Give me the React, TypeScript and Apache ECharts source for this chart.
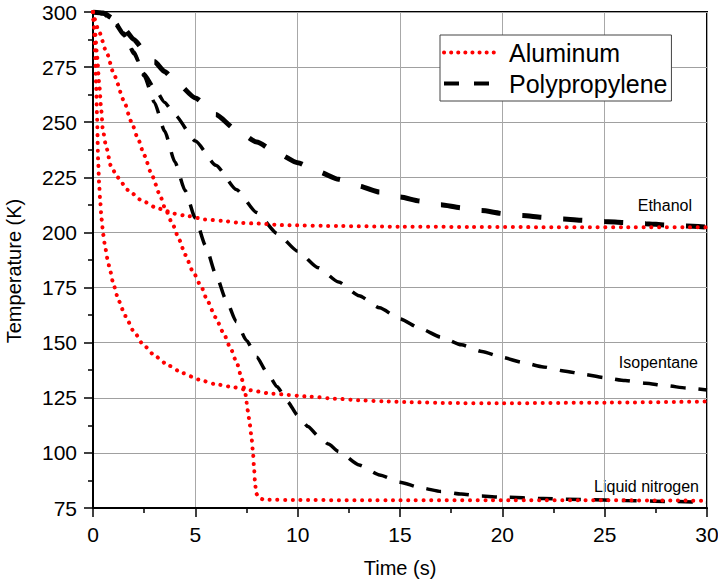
import React, { useEffect, useRef } from "react";
import * as echarts from "echarts";

// Time (s), Temperature (K)
const alEthanol: [number, number][] = [
  [0, 300], [0.1, 291], [0.2, 280], [0.3, 268], [0.4, 256], [0.48, 246.5], [0.64, 239],
  [0.88, 230], [1.2, 225], [1.7, 219.3], [2.35, 214.7], [3.05, 211.4], [3.49, 210.1],
  [3.9, 208.6], [4.67, 207.4], [5.47, 205.9], [6.3, 205.3], [7.1, 204.4], [7.88, 204.1],
  [9.35, 203.3], [12, 202.9], [15, 202.6], [18.5, 202.5], [22, 202.4], [26, 202.4], [30, 202.3],
];
const alIsopentane: [number, number][] = [
  [0, 300], [0.05, 293], [0.1, 283], [0.15, 268], [0.2, 252], [0.25, 233], [0.3, 222],
  [0.35, 214.5], [0.42, 206], [0.5, 199], [0.6, 193], [0.72, 187.4], [0.83, 182.9], [1.01, 176],
  [1.26, 168.9], [1.58, 162.1], [1.99, 155.1], [2.46, 149], [3.05, 143.8], [3.68, 139.7],
  [4.38, 136.2], [5.16, 133.3], [5.96, 131.2], [6.75, 130], [7.5, 128.6], [8.8, 126.8],
  [10.65, 125.5], [11.8, 124.6], [13, 123.9], [14.15, 123.4], [15.5, 123], [17.4, 122.6],
  [20, 122.5], [25, 122.8], [30, 123.3],
];
const alNitrogen: [number, number][] = [
  [0, 300], [0.3, 291], [0.65, 282], [1.05, 271], [1.5, 260], [1.86, 250.5], [2.22, 242],
  [2.5, 235], [2.9, 225.5], [3.25, 217.4], [3.54, 210.5], [3.9, 203.5], [4.22, 196.5],
  [4.51, 189.8], [4.87, 182.5], [5.28, 175.6], [5.6, 168.8], [5.98, 161.6], [6.37, 154.5],
  [6.71, 147.7], [7.04, 140.5], [7.28, 133.2], [7.45, 126.5], [7.57, 119], [7.66, 113],
  [7.74, 107.5], [7.81, 101], [7.87, 93], [7.92, 86], [7.98, 81.5], [8.1, 79.5], [8.35, 78.8],
  [10, 78.6], [15, 78.5], [20, 78.5], [25, 78.5], [30, 78.3],
];
const ppEthanol: [number, number][] = [
  [0, 300], [0.5, 299.5], [1, 297], [1.5, 292.5], [2, 287.5], [2.5, 282.5], [3, 277.5],
  [3.5, 273], [4, 268.8], [5, 261], [6, 253.5], [7, 246.5], [8, 241], [9, 236], [10, 231.6],
  [11, 227.6], [12, 224.1], [13, 221], [14, 218.3], [15, 216.1], [16, 214.2], [17, 212.6],
  [18, 211.2], [19, 209.9], [20, 208.6], [21, 207.7], [22, 206.8], [23, 206.1], [24, 205.5],
  [25, 205], [26, 204.5], [27, 204], [28, 203.4], [29, 202.9], [30, 202.4],
];
const ppIsopentane: [number, number][] = [
  [0, 300], [0.5, 299.3], [1, 296.5], [1.5, 290.5], [2, 281], [2.5, 272], [3, 265.5],
  [3.5, 259], [4, 253.3], [5, 241.5], [6, 230.5], [7, 219.5], [8, 209], [9, 199.5],
  [10, 191.5], [11, 184], [12, 177.5], [13, 171.3], [14, 165.8], [15, 160.8], [16, 156.4],
  [17, 152.5], [18, 149], [19, 146], [20, 143.3], [21, 141], [22, 139], [23, 137.2],
  [24, 135.6], [25, 134.1], [26, 132.8], [27, 131.6], [28, 130.5], [29, 129.4], [30, 128.5],
];
const ppNitrogen: [number, number][] = [
  [0, 300], [0.5, 299.2], [1, 295.5], [1.5, 289.5], [2, 282], [2.5, 271], [3, 259],
  [3.5, 246], [4, 232], [4.5, 219], [5, 206.5], [5.5, 194], [6, 181], [6.5, 169.5],
  [7, 159.5], [7.5, 151], [8, 143.5], [8.5, 136.5], [9, 130], [9.5, 123.3], [10, 117],
  [10.5, 112], [11, 107.7], [11.5, 104], [12, 100.6], [13, 94.5], [14, 90], [15, 86.7],
  [16, 84.2], [17, 82.5], [18, 81.3], [19, 80.4], [20, 79.9], [22, 79.3], [24, 78.8],
  [26, 78.4], [28, 78], [30, 77.6],
];

const xTicks = { min: 0, max: 30, interval: 5 };
const yTicks = { min: 75, max: 300, interval: 25 };
const legendNames = ["Aluminum", "Polypropylene"];
const liquidLabels = ["Ethanol", "Isopentane", "Liquid nitrogen"];
const axisTitles = ["Time (s)", "Temperature (K)"];

const FONT = "Liberation Sans, Arial, sans-serif";
const dotted = { color: "#ff0000", width: 4, type: [0.1, 7.6] as number[], cap: "round" as const };
const dashedThin = { color: "#000", width: 3.5, type: [15, 13] as number[], cap: "butt" as const };
const dashedThick = { color: "#000", width: 5, type: [19, 22] as number[], cap: "butt" as const };

export default function App() {
  const ref = useRef<HTMLDivElement>(null);
  useEffect(() => {
    if (!ref.current) return;
    const chart = echarts.init(ref.current, null, { renderer: "svg" });
    const lineSeries = (name: string, data: [number, number][], ls: any, z: number) => ({
      type: "line",
      name,
      data,
      symbol: "none",
      showSymbol: false,
      smooth: 0.2,
      smoothMonotone: "x",
      lineStyle: ls,
      itemStyle: { color: ls.color },
      z,
    });
    chart.setOption({
      animation: false,
      backgroundColor: "#fff",
      textStyle: { fontFamily: FONT },
      grid: {
        left: 93,
        right: 11,
        top: 12,
        bottom: 77,
        show: true,
        borderColor: "#000",
        borderWidth: 2,
        backgroundColor: "transparent",
        containLabel: false,
        outerBoundsMode: "none",
      },
      legend: {
        orient: "vertical",
        left: 440,
        top: 35,
        data: [
          { name: legendNames[0], itemStyle: { opacity: 0 }, lineStyle: { ...dotted, type: [0.1, 7] } },
          { name: legendNames[1], itemStyle: { opacity: 0 }, lineStyle: { ...dashedThin, width: 4, type: [15, 15] } },
        ],
        itemWidth: 55,
        itemHeight: 14,
        itemGap: 6,
        padding: [5, 4, 5, 2],
        borderColor: "#444",
        borderWidth: 1,
        backgroundColor: "#fff",
        textStyle: { fontSize: 25, fontFamily: FONT, color: "#000", padding: [0, 0, 0, 5] },
        selectedMode: false,
      },
      xAxis: {
        type: "value",
        ...xTicks,
        name: axisTitles[0],
        nameLocation: "middle",
        nameGap: 50,
        nameTextStyle: { fontSize: 20, fontFamily: FONT, color: "#000" },
        axisLine: { show: true, onZero: false, lineStyle: { color: "#000", width: 2 } },
        axisTick: { show: true, length: 9, lineStyle: { color: "#000", width: 1.5 } },
        minorTick: { show: true, splitNumber: 2, length: 5, lineStyle: { color: "#000", width: 1.5 } },
        axisLabel: { fontSize: 21, fontFamily: FONT, color: "#000", margin: 16 },
        splitLine: { show: true, lineStyle: { color: "#a8a8a8", width: 1 } },
      },
      yAxis: {
        type: "value",
        ...yTicks,
        axisLine: { show: true, onZero: false, lineStyle: { color: "#000", width: 2 } },
        axisTick: { show: true, length: 9, lineStyle: { color: "#000", width: 1.5 } },
        minorTick: { show: true, splitNumber: 2, length: 5, lineStyle: { color: "#000", width: 1.5 } },
        axisLabel: { fontSize: 21, fontFamily: FONT, color: "#000", margin: 16 },
        splitLine: { show: true, lineStyle: { color: "#a0a0a0", width: 1 } },
      },
      series: [
        lineSeries(legendNames[1], ppNitrogen, dashedThin, 2),
        lineSeries(legendNames[1], ppIsopentane, dashedThin, 2),
        lineSeries(legendNames[1], ppEthanol, dashedThick, 2),
        lineSeries(legendNames[0], alEthanol, dotted, 3),
        lineSeries(legendNames[0], alIsopentane, dotted, 3),
        lineSeries(legendNames[0], alNitrogen, dotted, 3),
      ],
      graphic: [
        {
          type: "text", x: 14, y: 271, rotation: Math.PI / 2,
          style: { text: axisTitles[1], fontSize: 20, fontFamily: FONT, fill: "#000", align: "center", verticalAlign: "middle" },
        },
        { type: "text", right: 26, top: 197, style: { text: liquidLabels[0], fontSize: 16, fontFamily: FONT, fill: "#000" } },
        { type: "text", right: 20, top: 354, style: { text: liquidLabels[1], fontSize: 16, fontFamily: FONT, fill: "#000" } },
        { type: "text", right: 19, top: 478, style: { text: liquidLabels[2], fontSize: 16, fontFamily: FONT, fill: "#000" } },
      ],
    });
    return () => chart.dispose();
  }, []);
  return (
    <div
      ref={ref}
      style={{ position: "fixed", left: 0, top: 0, width: 718, height: 585 }}
    />
  );
}
